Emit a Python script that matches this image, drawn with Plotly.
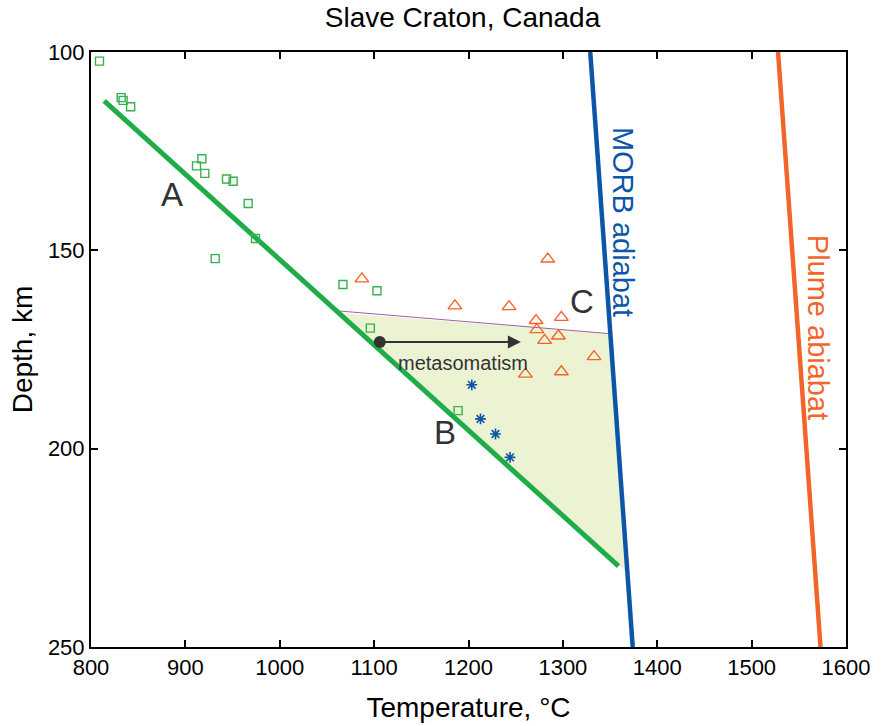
import plotly.graph_objects as go

# Geotherm fits and adiabats (temperature in °C, depth in km)
geotherm_temp = [814, 1359]
geotherm_depth = [112.3, 229.6]
morb_temp = [1329, 1374]
morb_depth = [100, 250]
plume_temp = [1528, 1573]
plume_depth = [100, 250]

# Metasomatised region bounded by the geotherm, the MORB adiabat and an upper edge
region_temp = [1063.5, 1349.5, 1366]
region_depth = [165.8, 171.0, 230.8]
edge_temp = [1063.5, 1349.5]
edge_depth = [165.3, 171.0]

# Xenolith P-T estimates
sq_temp = [809, 832, 834, 842, 917.5, 911.8, 920.6, 943.6, 950.6, 966.5, 974.3, 931.6,
           1067, 1103, 1096, 1189]
sq_depth = [102.3, 111.5, 112.2, 113.8, 126.9, 128.7, 130.6, 132.0, 132.6, 138.2, 147.0, 152.1,
            158.6, 160.2, 169.6, 190.4]
tri_temp = [1087, 1284, 1185.6, 1243, 1271.6, 1298.4, 1272.4, 1280.6, 1295.3, 1333, 1260.3, 1298.4]
tri_depth = [157.2, 152.2, 164.0, 164.2, 167.7, 166.9, 170.0, 172.7, 171.6, 176.8, 181.2, 180.6]
ast_temp = [1203.5, 1212.7, 1228.6, 1244]
ast_depth = [183.9, 192.5, 196.3, 202.2]

# Metasomatism arrow
arrow_start = (1106, 173.1)
arrow_end = (1255.5, 173.1)

GREEN = "#1fad4a"
BLUE = "#0b56a6"
ORANGE = "#f2652a"
DARK = "#333333"
FONT = "Liberation Sans, Arial, Helvetica, sans-serif"

fig = go.Figure()

fig.add_trace(go.Scatter(x=region_temp, y=region_depth, fill="toself", mode="none",
                         fillcolor="#ebf3d3", hoverinfo="skip"))
fig.add_trace(go.Scatter(x=edge_temp, y=edge_depth, mode="lines",
                         line=dict(color="#a060a8", width=1)))
fig.add_trace(go.Scatter(x=geotherm_temp, y=geotherm_depth, mode="lines",
                         line=dict(color=GREEN, width=5)))
fig.add_trace(go.Scatter(x=morb_temp, y=morb_depth, mode="lines",
                         line=dict(color=BLUE, width=4.5)))
fig.add_trace(go.Scatter(x=plume_temp, y=plume_depth, mode="lines",
                         line=dict(color=ORANGE, width=4.5)))

fig.add_trace(go.Scatter(x=sq_temp, y=sq_depth, mode="markers", cliponaxis=False,
                         marker=dict(symbol="square-open", size=8, color="#35b24f",
                                     line=dict(width=1.4))))
fig.add_trace(go.Scatter(x=tri_temp, y=tri_depth, mode="markers",
                         marker=dict(symbol="triangle-up-open", size=12, color=ORANGE,
                                     line=dict(width=1.4))))
fig.add_trace(go.Scatter(x=ast_temp, y=ast_depth, mode="markers",
                         marker=dict(symbol="asterisk-open", size=9, color=BLUE,
                                     line=dict(width=1.6, color=BLUE))))
fig.add_trace(go.Scatter(x=[arrow_start[0]], y=[arrow_start[1]], mode="markers",
                         marker=dict(symbol="circle", size=12, color=DARK)))

fig.add_annotation(x=arrow_end[0], y=arrow_end[1], ax=arrow_start[0], ay=arrow_start[1],
                   xref="x", yref="y", axref="x", ayref="y", text="", showarrow=True,
                   arrowhead=2, arrowsize=1.3, arrowwidth=2, arrowcolor=DARK)

labels = [
    dict(x=885.7, y=136, text="A", size=33, color=DARK, angle=0),
    dict(x=1174.6, y=196, text="B", size=33, color=DARK, angle=0),
    dict(x=1320.6, y=163, text="C", size=33, color=DARK, angle=0),
    dict(x=1194, y=178.3, text="metasomatism", size=20, color=DARK, angle=0),
    dict(x=1364, y=142.9, text="MORB adiabat", size=29, color=BLUE, angle=90),
    dict(x=1569.8, y=169.4, text="Plume abiabat", size=29, color=ORANGE, angle=90),
]
for lb in labels:
    fig.add_annotation(x=lb["x"], y=lb["y"], xref="x", yref="y", text=lb["text"],
                       showarrow=False, textangle=lb["angle"],
                       font=dict(family=FONT, size=lb["size"], color=lb["color"]))

axis_style = dict(showline=True, linecolor="black", linewidth=2, mirror="ticks",
                  ticks="inside", ticklen=7, tickwidth=1.5, tickcolor="black",
                  showgrid=False, zeroline=False,
                  tickfont=dict(family=FONT, size=22, color="black"))

fig.update_xaxes(range=[800, 1600], dtick=100, tick0=800,
                 title=dict(text="Temperature, °C", font=dict(family=FONT, size=28, color="black"),
                            standoff=18),
                 **axis_style)
fig.update_yaxes(range=[250, 100], dtick=50, tick0=100,
                 title=dict(text="Depth, km", font=dict(family=FONT, size=28, color="black"),
                            standoff=7),
                 **axis_style)

fig.update_layout(
    width=881, height=726,
    margin=dict(l=91, r=35, t=52, b=79, autoexpand=False),
    paper_bgcolor="white", plot_bgcolor="white",
    showlegend=False,
    title=dict(text="Slave Craton, Canada", x=0.525, xanchor="center", y=0.99, yanchor="top",
               font=dict(family=FONT, size=28, color="black")),
)

fig.write_html("out.html")
